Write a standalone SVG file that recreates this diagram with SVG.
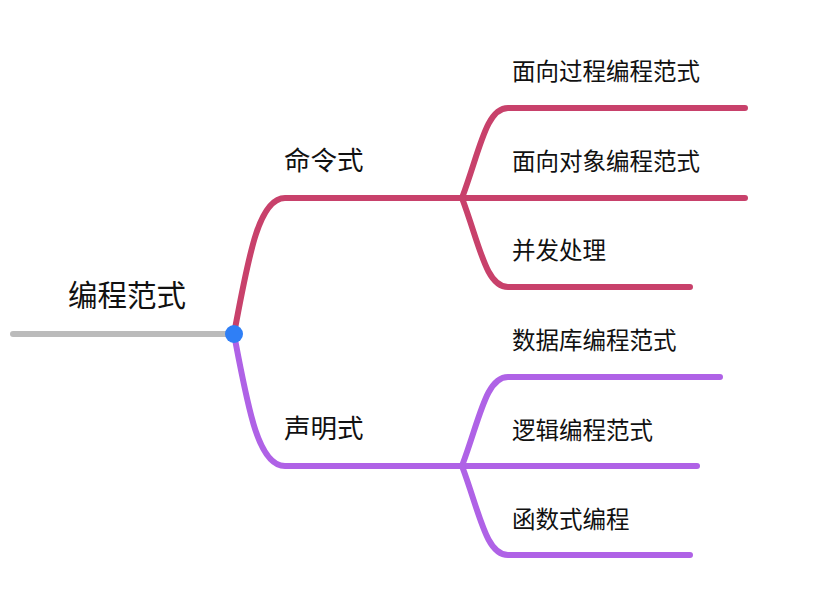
<svg xmlns="http://www.w3.org/2000/svg" width="828" height="604" viewBox="0 0 828 604">
<style>
.ln{fill:none;stroke-width:6;stroke-linecap:round;stroke-linejoin:round}
.red{stroke:#c8416b}
.pur{stroke:#af62e6}
.gray{stroke:#bbbbbb}
text{font-family:"Noto Sans CJK SC","Noto Sans",sans-serif;fill:#111}
.root{font-size:29.5px}
.main{font-size:26.5px}
.leaf{font-size:23.5px}
</style>
<rect width="828" height="604" fill="#ffffff"/>
<g id="connectors">
<path class="ln gray" d="M13,334 L234,334"/>
<path class="ln red" d="M234,334 C248,260 258,198 285,198 L462,198"/>
<path class="ln red" d="M462,198 C480,150 486,108 508,108 L745,108"/>
<path class="ln red" d="M462,198 L745,198"/>
<path class="ln red" d="M462,198 C480,246 486,287 508,287 L690,287"/>
<path class="ln pur" d="M234,334 C248,408 258,466 285,466 L462,466"/>
<path class="ln pur" d="M462,466 C480,418 486,377 508,377 L720,377"/>
<path class="ln pur" d="M462,466 L697,466"/>
<path class="ln pur" d="M462,466 C480,514 486,555 508,555 L690,555"/>
</g>
<g id="root"><text class="root" x="68" y="306">编程范式</text><circle cx="234" cy="334" r="9" fill="#2f7ff6"/></g>
<g id="n-imperative"><text class="main" x="284" y="170">命令式</text></g>
<g id="n-declarative"><text class="main" x="284" y="438">声明式</text></g>
<g id="n-procedural"><text class="leaf" x="512" y="80">面向过程编程范式</text></g>
<g id="n-oop"><text class="leaf" x="512" y="170">面向对象编程范式</text></g>
<g id="n-concurrent"><text class="leaf" x="512" y="259">并发处理</text></g>
<g id="n-database"><text class="leaf" x="512" y="349">数据库编程范式</text></g>
<g id="n-logic"><text class="leaf" x="512" y="439">逻辑编程范式</text></g>
<g id="n-functional"><text class="leaf" x="512" y="528">函数式编程</text></g>
</svg>
